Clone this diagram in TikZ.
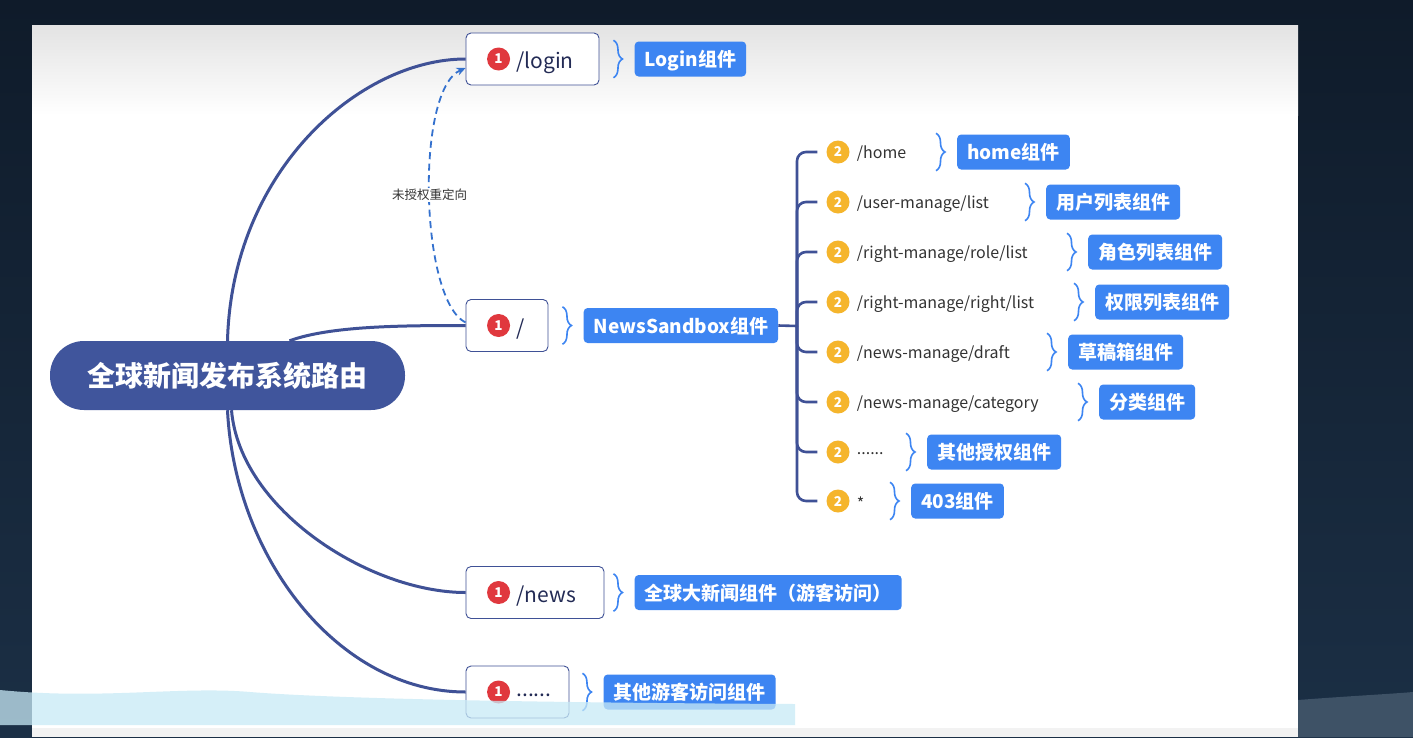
\documentclass[tikz,border=0pt]{standalone}
\usepackage{fontspec}
\setmainfont{Noto Sans CJK SC}
\usepackage{xcolor}
\usetikzlibrary{calc,arrows.meta,decorations.pathreplacing}
\definecolor{night}{HTML}{0F1B2A}
\definecolor{nightlow}{HTML}{1B2F45}
\definecolor{slate}{HTML}{3E5266}
\definecolor{rootblue}{HTML}{40559C}
\definecolor{edge}{HTML}{3F5196}
\definecolor{tagblue}{HTML}{3D85F2}
\definecolor{badgered}{HTML}{E0383E}
\definecolor{badgegold}{HTML}{F5B52C}
\definecolor{pathtext}{HTML}{333333}
\definecolor{boxtext}{HTML}{232B55}
\definecolor{haze}{HTML}{C8EAF6}
% one child route of the sandbox: name, y, path, tag x, tag text
\newcommand{\SubRoute}[5]{%
  \node[badge,fill=badgegold] (#1b) at (838,#2) {2};
  \node[subpath] (#1p) at ($(#1b.east)+(7,0)$) {#3};
  \node[tag,anchor=west] (#1t) at (#4,#2) {#5};
  \draw[bracket] ($(#1t.north west)+(-21,-1)$) -- ($(#1t.south west)+(-21,1)$);
  \draw[branch] (fork) |- ([xshift=-9pt]#1b.west);
}

\begin{document}
\begin{tikzpicture}[x=1pt,y=-1pt,
  root/.style={fill=rootblue,rounded corners=34pt,minimum width=355pt,minimum height=69pt,
    text=white,font=\fontsize{28}{30}\selectfont\bfseries},
  routebox/.style={draw=edge,line width=0.9pt,rounded corners=5pt,fill=white,minimum height=52pt},
  badge/.style={circle,inner sep=0pt,minimum size=23pt,text=white,font=\fontsize{13.5}{14}\selectfont\bfseries},
  routetxt/.style={anchor=west,text=boxtext,inner sep=0pt,yshift=-3.5pt,font=\fontsize{21}{24}\selectfont},
  subpath/.style={anchor=west,text=pathtext,inner sep=0pt,yshift=-2pt,font=\fontsize{16}{18}\selectfont},
  tag/.style={fill=tagblue,rounded corners=4pt,text=white,minimum height=35pt,inner xsep=10pt,
    text height=16pt,text depth=1pt,font=\fontsize{19}{21}\selectfont\bfseries},
  bracket/.style={draw=tagblue,line width=1.6pt,decorate,decoration={brace,amplitude=9pt}},
  mainline/.style={draw=edge,line width=3pt},
  branch/.style={draw=edge,line width=2.6pt,rounded corners=9pt},
  redirect/.style={draw=tagblue!85!black,line width=1.8pt,dash pattern=on 7pt off 4.5pt,
    -{Stealth[length=9pt,width=8pt]}},
  note/.style={text=pathtext,fill=white,inner sep=1pt,font=\fontsize{12.5}{14}\selectfont}]
  \useasboundingbox (0,0) rectangle (1413,737);
  % screen and slide
  \shade[top color=night,bottom color=nightlow] (0,0) rectangle (1413,737);
  \fill[slate] (1298,700) .. controls (1350,696) and (1390,694) .. (1413,692) -- (1413,737) -- (1298,737) -- cycle;
  \fill[white] (32,25) rectangle (1298,728);
  \shade[top color=black!11,bottom color=white] (32,25) rectangle (1298,115);
  \fill[black!5] (32,728) rectangle (1298,737);

  % root
  \node[root] (root) at (227.5,375.5) {全球新闻发布系统路由};

  % first level
  \node[routebox,minimum width=133pt] (login) at (532.5,59) {};
  \node[badge,fill=badgered] (loginb) at ($(login.west)+(33,0)$) {1};
  \node[routetxt] (loginp) at ($(loginb.east)+(6,0)$) {/login};
  \node[tag,anchor=west] (logint) at ($(login.east)+(35,0)$) {Login组件};
  \draw[bracket] ($(logint.north west)+(-21,-1)$) -- ($(logint.south west)+(-21,1)$);

  \node[routebox,minimum width=82pt] (sandbox) at (507,325.5) {};
  \node[badge,fill=badgered] (sandboxb) at ($(sandbox.west)+(33,0)$) {1};
  \node[routetxt] (sandboxp) at ($(sandboxb.east)+(6,0)$) {/};
  \node[tag,anchor=west] (sandboxt) at ($(sandbox.east)+(35,0)$) {NewsSandbox组件};
  \draw[bracket] ($(sandboxt.north west)+(-21,-1)$) -- ($(sandboxt.south west)+(-21,1)$);

  \node[routebox,minimum width=138pt] (news) at (535,592.5) {};
  \node[badge,fill=badgered] (newsb) at ($(news.west)+(33,0)$) {1};
  \node[routetxt] (newsp) at ($(newsb.east)+(6,0)$) {/news};
  \node[tag,anchor=west] (newst) at ($(news.east)+(30,0)$) {全球大新闻组件（游客访问）};
  \draw[bracket] ($(newst.north west)+(-21,-1)$) -- ($(newst.south west)+(-21,1)$);

  \node[routebox,minimum width=103pt] (guest) at (517.5,692) {};
  \node[badge,fill=badgered] (guestb) at ($(guest.west)+(33,0)$) {1};
  \node[routetxt] (guestp) at ($(guestb.east)+(6,0)$) {......};
  \node[tag,anchor=west] (guestt) at ($(guest.east)+(34,0)$) {其他游客访问组件};
  \draw[bracket] ($(guestt.north west)+(-21,-1)$) -- ($(guestt.south west)+(-21,1)$);

  % root to first level
  \draw[mainline] (root.north) .. controls (232,170) and (360,59) .. (login.west);
  \draw[mainline] ([xshift=62pt]root.north) .. controls (330,326) and (400,325.5) .. (sandbox.west);
  \draw[mainline] ([xshift=4pt]root.south) .. controls (240,510) and (370,592.5) .. (news.west);
  \draw[mainline] (root.south) .. controls (235,560) and (340,692) .. (guest.west);

  % redirect when not logged in
  \draw[redirect] ([yshift=3pt]sandbox.west) .. controls (420,300) and (415,90) .. ([yshift=-9pt]login.west)
    node[note,pos=0.5] (redirectnote) {未授权重定向};

  % second level
  \coordinate (fork) at (797,326);
  \draw[branch] (sandboxt.east) -- (fork);
  \SubRoute{home}{152}{/home}{957}{home组件}
  \SubRoute{user}{202}{/user-manage/list}{1046}{用户列表组件}
  \SubRoute{role}{252}{/right-manage/role/list}{1088}{角色列表组件}
  \SubRoute{right}{302}{/right-manage/right/list}{1095}{权限列表组件}
  \SubRoute{draft}{352}{/news-manage/draft}{1068}{草稿箱组件}
  \SubRoute{cat}{402}{/news-manage/category}{1099}{分类组件}
  \SubRoute{more}{452}{......}{927}{其他授权组件}
  \SubRoute{deny}{501}{*}{911}{403组件}

  % light band over the bottom of the slide
  \fill[haze,opacity=0.75] (0,690) .. controls (100,700) and (180,686) .. (250,692)
    .. controls (350,700) and (600,703) .. (795,704) -- (795,725) -- (0,725) -- cycle;
\end{tikzpicture}
\end{document}
